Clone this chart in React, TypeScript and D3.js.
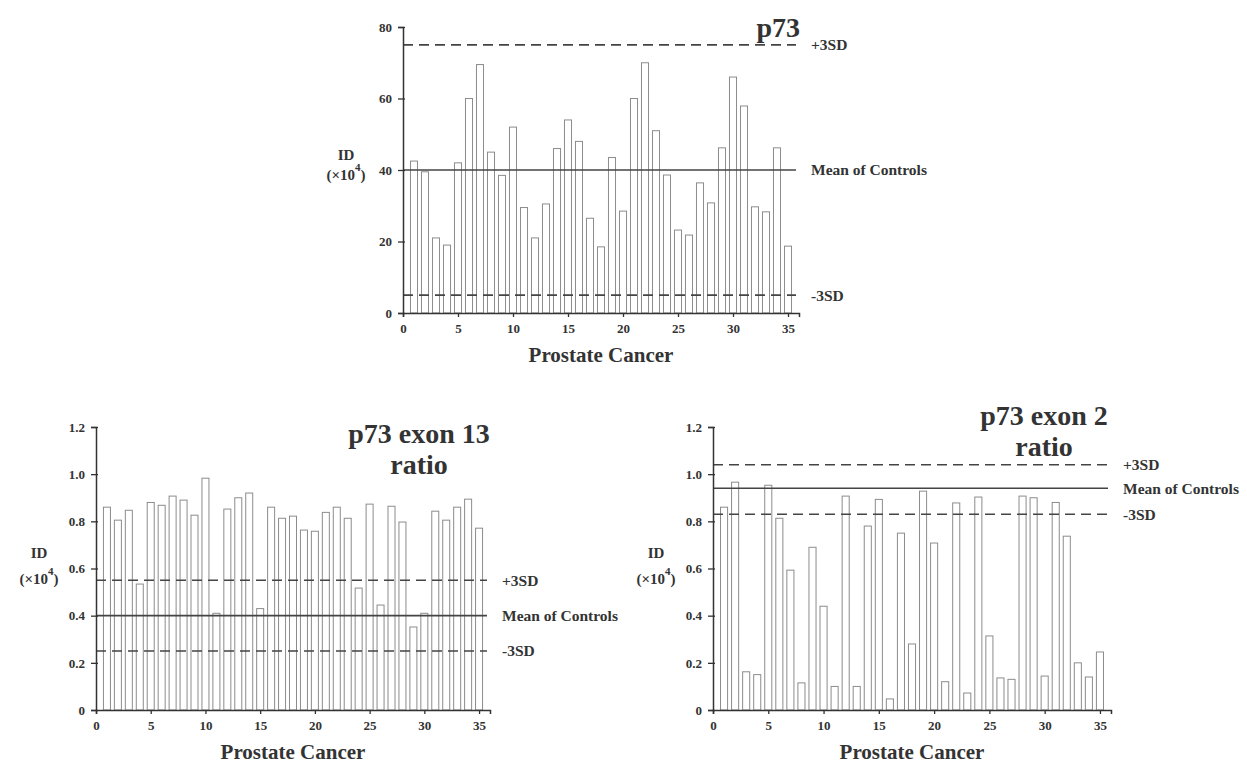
import { useEffect, useRef } from "react";
import * as d3 from "d3";

// p73 (ID x10^4), cases 1..35
const p73Values = [
  42.5, 39.5, 21, 19, 42, 60, 69.5, 45, 38.5, 52, 29.5, 21, 30.5, 46, 54, 48,
  26.5, 18.5, 43.5, 28.5, 60, 70, 51, 38.6, 23.2, 21.8, 36.4, 30.8, 46.2, 66,
  57.9, 29.7, 28.3, 46.2, 18.7,
];
const p73Ref = { plus: 75, mean: 40, minus: 5 };
const p73Ticks = [0, 20, 40, 60, 80];

// p73 exon 13 ratio
const exon13Values = [
  0.86, 0.805, 0.847, 0.534, 0.88, 0.868, 0.907, 0.89, 0.826, 0.983, 0.41,
  0.852, 0.9, 0.92, 0.43, 0.86, 0.813, 0.822, 0.763, 0.758, 0.838, 0.86, 0.813,
  0.517, 0.873, 0.445, 0.864, 0.797, 0.352, 0.41, 0.843, 0.805, 0.86, 0.894,
  0.771,
];
const exon13Ref = { plus: 0.55, mean: 0.4, minus: 0.25 };

// p73 exon 2 ratio
const exon2Values = [
  0.86, 0.966, 0.162, 0.15, 0.953, 0.813, 0.593, 0.115, 0.69, 0.44, 0.1, 0.907,
  0.1, 0.78, 0.893, 0.047, 0.75, 0.28, 0.928, 0.708, 0.12, 0.878, 0.072, 0.903,
  0.314, 0.136, 0.13, 0.907, 0.9, 0.144, 0.88, 0.737, 0.2, 0.14, 0.246,
];
const exon2Ref = { plus: 1.04, mean: 0.94, minus: 0.83 };
const ratioTicks = [0, 0.2, 0.4, 0.6, 0.8, 1.0, 1.2];

const xTicks = [0, 5, 10, 15, 20, 25, 30, 35];

type Panel = {
  values: number[];
  ref: { plus: number; mean: number; minus: number };
  yMax: number;
  yTicks: number[];
  fmt: (d: number) => string;
  left: number;
  right: number;
  top: number;
  bottom: number;
  title: string[];
  titleX: number;
  titleY: number;
  titleAnchor: string;
  idY: number;
  unitY: number;
};

const panels: Panel[] = [
  {
    values: p73Values,
    ref: p73Ref,
    yMax: 80,
    yTicks: p73Ticks,
    fmt: (d) => String(d),
    left: 403,
    right: 799,
    top: 27,
    bottom: 313,
    title: ["p73"],
    titleX: 800,
    titleY: 37,
    titleAnchor: "end",
    idY: 160,
    unitY: 180,
  },
  {
    values: exon13Values,
    ref: exon13Ref,
    yMax: 1.2,
    yTicks: ratioTicks,
    fmt: (d) => (d === 0 ? "0" : d.toFixed(1)),
    left: 96,
    right: 490,
    top: 427,
    bottom: 710,
    title: ["p73 exon 13", "ratio"],
    titleX: 419,
    titleY: 443,
    titleAnchor: "middle",
    idY: 558,
    unitY: 584,
  },
  {
    values: exon2Values,
    ref: exon2Ref,
    yMax: 1.2,
    yTicks: ratioTicks,
    fmt: (d) => (d === 0 ? "0" : d.toFixed(1)),
    left: 713,
    right: 1111,
    top: 427,
    bottom: 710,
    title: ["p73 exon 2", "ratio"],
    titleX: 1044,
    titleY: 425,
    titleAnchor: "middle",
    idY: 558,
    unitY: 584,
  },
];

const FONT = "'Liberation Serif', 'DejaVu Serif', serif";
const INK = "#333";

export default function App() {
  const width = 1247;
  const height = 763;
  const svgRef = useRef<SVGSVGElement>(null);

  useEffect(() => {
    const svg = d3.select(svgRef.current);
    svg.selectAll("*").remove();

    panels.forEach((p) => {
      const x = d3.scaleLinear().domain([0, 36]).range([p.left, p.right]);
      const y = d3.scaleLinear().domain([0, p.yMax]).range([p.bottom, p.top]);
      const g = svg
        .append("g")
        .attr("font-family", FONT)
        .attr("fill", INK);
      const bw = (x(1) - x(0)) * 0.64;

      // bars
      g.append("g")
        .selectAll("rect")
        .data(p.values)
        .join("rect")
        .attr("x", (_, i) => x(i + 1) - bw / 2)
        .attr("y", (d) => y(d))
        .attr("width", bw)
        .attr("height", (d) => y(0) - y(d))
        .attr("fill", "#fff")
        .attr("stroke", "#8c8c8c")
        .attr("stroke-width", 1);

      // reference lines
      const refs = [
        { v: p.ref.plus, label: "+3SD", dash: "10,6" },
        { v: p.ref.mean, label: "Mean of Controls", dash: null },
        { v: p.ref.minus, label: "-3SD", dash: "10,6" },
      ];
      refs.forEach((r) => {
        g.append("line")
          .attr("x1", x(0))
          .attr("x2", x(36) - 3)
          .attr("y1", y(r.v))
          .attr("y2", y(r.v))
          .attr("stroke", "#444")
          .attr("stroke-width", 1.6)
          .attr("stroke-dasharray", r.dash);
        g.append("text")
          .attr("x", x(36) + 12)
          .attr("y", y(r.v))
          .attr("dy", "0.35em")
          .attr("font-size", 15.5)
          .attr("font-weight", "bold")
          .text(r.label);
      });

      // y axis
      const yAxis = g
        .append("g")
        .attr("transform", `translate(${x(0)},0)`)
        .call(d3.axisLeft(y).tickValues(p.yTicks).tickFormat((d) => p.fmt(+d)).tickSize(5).tickPadding(6));
      yAxis.select(".domain").attr("stroke", INK).attr("stroke-width", 1.5);
      yAxis.selectAll("line").attr("stroke", INK).attr("stroke-width", 1.3).attr("x2", -5).attr("x1", 2);
      yAxis
        .selectAll("text")
        .attr("font-family", FONT)
        .attr("font-size", 13)
        .attr("font-weight", "bold")
        .attr("fill", INK);

      // x axis
      const xAxis = g
        .append("g")
        .attr("transform", `translate(0,${y(0)})`)
        .call(d3.axisBottom(x).tickValues(xTicks).tickSize(4).tickPadding(7));
      xAxis.select(".domain").attr("stroke", INK).attr("stroke-width", 1.5);
      xAxis.selectAll("line").attr("stroke", INK).attr("stroke-width", 1.3);
      xAxis
        .selectAll("text")
        .attr("font-family", FONT)
        .attr("font-size", 13)
        .attr("font-weight", "bold")
        .attr("fill", INK);

      // axis titles
      g.append("text")
        .attr("x", (x(0) + x(36)) / 2)
        .attr("y", y(0) + 49)
        .attr("text-anchor", "middle")
        .attr("font-size", 21)
        .attr("font-weight", "bold")
        .text("Prostate Cancer");

      g.append("text")
        .attr("x", x(0) - 57)
        .attr("y", p.idY)
        .attr("text-anchor", "middle")
        .attr("font-size", 15)
        .attr("font-weight", "bold")
        .text("ID");
      const unit = g
        .append("text")
        .attr("x", x(0) - 57)
        .attr("y", p.unitY)
        .attr("text-anchor", "middle")
        .attr("font-size", 15)
        .attr("font-weight", "bold");
      unit.append("tspan").text("(\u00d710");
      unit.append("tspan").attr("dy", -9).attr("font-size", 11).text("4");
      unit.append("tspan").attr("dy", 9).text(")");

      // chart title
      p.title.forEach((t, i) => {
        g.append("text")
          .attr("x", p.titleX)
          .attr("y", p.titleY + i * 31)
          .attr("text-anchor", p.titleAnchor)
          .attr("font-size", 28)
          .attr("font-weight", "bold")
          .text(t);
      });
    });
  }, []);

  return (
    <svg
      ref={svgRef}
      width={width}
      height={height}
      style={{ position: "absolute", left: 0, top: 0, background: "#fff" }}
    ></svg>
  );
}
